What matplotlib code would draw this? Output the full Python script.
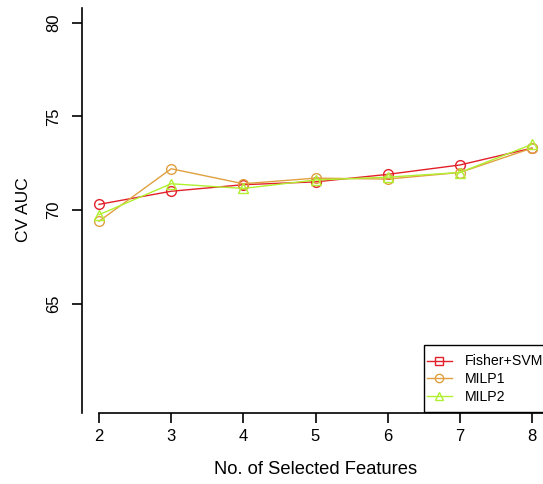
import matplotlib.pyplot as plt
from matplotlib.lines import Line2D
from matplotlib.patches import Rectangle

# data
n_features = [2, 3, 4, 5, 6, 7, 8]
fisher_svm = [70.3, 71.0, 71.35, 71.5, 71.9, 72.4, 73.3]
milp1 = [69.4, 72.2, 71.4, 71.7, 71.65, 72.0, 73.3]
milp2 = [69.75, 71.4, 71.15, 71.6, 71.75, 72.0, 73.5]
y_ticks = [65, 70, 75, 80]

colors = {'fisher': '#E3202A', 'milp1': '#E0A040', 'milp2': '#B0F030'}

plt.rcParams['font.family'] = ['Liberation Sans', 'DejaVu Sans']

W, H = 543, 484
fig = plt.figure(figsize=(W / 100, H / 100), dpi=100)
# axes region in pixels: left 82, right 549, top 7.5, bottom 412.5
ax = fig.add_axes([82 / W, (H - 412.5) / H, 467 / W, 405 / H])
ax.set_xlim(1.764, 8.236)
ax.set_ylim(59.2, 80.8)

ax.plot(n_features, fisher_svm, color=colors['fisher'], lw=1, marker='o',
        ms=7, mfc='none', mew=1)
ax.plot(n_features, milp1, color=colors['milp1'], lw=1, marker='o',
        ms=7, mfc='none', mew=1)
ax.plot(n_features, milp2, color=colors['milp2'], lw=1, marker='^',
        ms=7.5, mfc='none', mew=1)

for s in ['top', 'right']:
    ax.spines[s].set_visible(False)
ax.spines['bottom'].set_bounds(2, 8.236)
for s in ['left', 'bottom']:
    ax.spines[s].set_linewidth(1.2)

ax.set_xticks(n_features)
ax.set_yticks(y_ticks)
ax.set_yticklabels([str(v) for v in y_ticks], rotation=90, va='center')
ax.tick_params(axis='both', direction='out', length=7, width=1.2,
               labelsize=12, pad=5)
ax.tick_params(axis='y', pad=8)

ax.set_xlabel('No. of Selected Features', fontsize=13.2, labelpad=12)
ax.set_ylabel('CV AUC', fontsize=12.5, labelpad=11)

# legend box (runs off the right edge, like the reference)
fig.patches.append(Rectangle((424 / W, (H - 412) / H), 130 / W, 67 / H,
                             transform=fig.transFigure, fill=True,
                             facecolor='white', edgecolor='black', lw=1,
                             zorder=5))

handles = [
    Line2D([], [], color=colors['fisher'], lw=1, marker='s', ms=6, mfc='none'),
    Line2D([], [], color=colors['milp1'], lw=1, marker='o', ms=6, mfc='none'),
    Line2D([], [], color=colors['milp2'], lw=1, marker='^', ms=6, mfc='none'),
]
leg = fig.legend(handles, ['Fisher+SVM', 'MILP1', 'MILP2'],
                 loc='center left', bbox_to_anchor=(424 / W, (H - 379) / H),
                 fontsize=10.2, frameon=False, handlelength=1.75,
                 handletextpad=0.9, labelspacing=0.25, borderpad=0.2,
                 borderaxespad=0)
leg.set_zorder(6)

fig.savefig('out.png', dpi=100)
